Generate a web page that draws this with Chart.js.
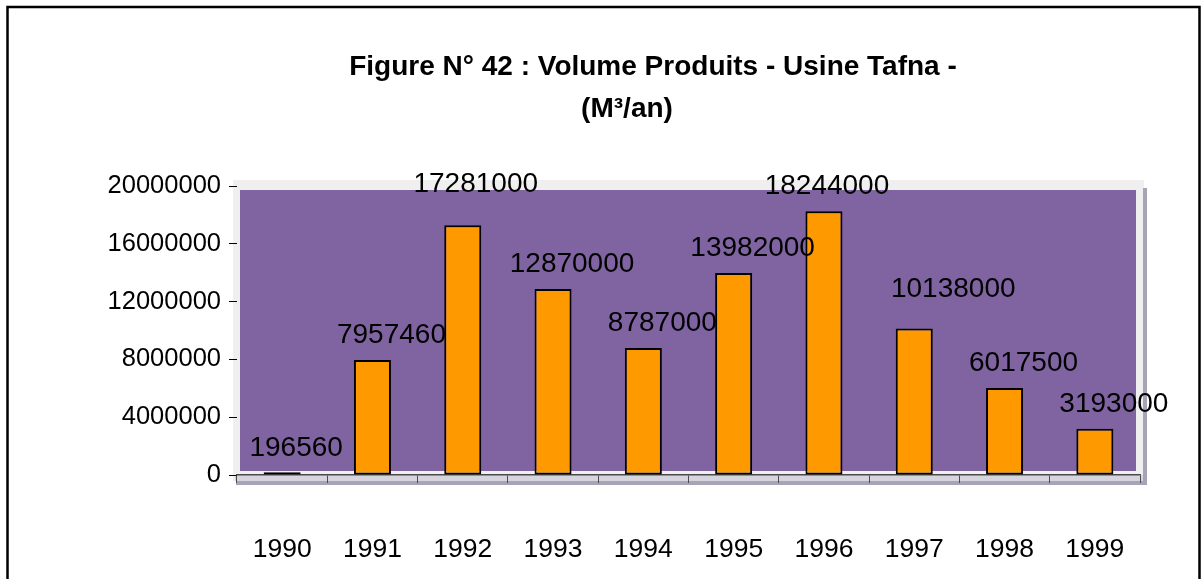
<!DOCTYPE html>
<html lang="fr">
  <head>
    <meta charset="UTF-8" />
    <title>Volume Produits - Usine Tafna</title>
    <script src="https://cdn.jsdelivr.net/npm/chart.js"></script>
    <style>
      body {
        margin: 0;
        background: #fff;
      }
      #volumeChart {
        display: block;
      }
    </style>
  </head>

  <body>
    <canvas id="volumeChart" width="1201" height="579"></canvas>

    <script>
      // Données : volume produit par année (M3/an)
      const annees = ["1990", "1991", "1992", "1993", "1994", "1995", "1996", "1997", "1998", "1999"];
      const volumes = [196560, 7957460, 17281000, 12870000, 8787000, 13982000, 18244000, 10138000, 6017500, 3193000];
      const titre = ["Figure N° 42 : Volume Produits - Usine Tafna -", "(M³/an)"];
      const axeYMax = 20000000;
      const axeYPas = 2000000;
      const axeYLabelPas = 4000000;

      const policeTexte = '"Liberation Sans", Arial, sans-serif';

      // Cadre noir autour du graphique + mur violet "3D" derrière les barres
      const fondPlugin = {
        id: "fond",
        beforeDraw(chart) {
          const ctx = chart.ctx;
          const ca = chart.chartArea;
          ctx.save();
          ctx.fillStyle = "#fff";
          ctx.fillRect(0, 0, chart.width, chart.height);

          // bordure extérieure (pas de trait en bas)
          ctx.strokeStyle = "#000";
          ctx.lineWidth = 2.5;
          ctx.beginPath();
          ctx.moveTo(7.5, chart.height + 5);
          ctx.lineTo(7.5, 7);
          ctx.lineTo(1199.5, 7);
          ctx.lineTo(1199.5, chart.height + 5);
          ctx.stroke();

          // titre sur deux lignes
          ctx.fillStyle = "#000";
          ctx.textAlign = "center";
          ctx.textBaseline = "alphabetic";
          ctx.font = "bold 28px " + policeTexte;
          ctx.fillText(titre[0], 653, 75);
          ctx.fillText(titre[1], 627, 117);

          // cadre gris clair du mur
          ctx.fillStyle = "#efefef";
          ctx.fillRect(ca.left - 4, ca.top - 6, ca.right - ca.left + 8, ca.bottom - ca.top + 12);
          // ombre à droite et en bas
          ctx.fillStyle = "#a9a3b8";
          ctx.fillRect(ca.right + 3, ca.top + 2, 4, ca.bottom - ca.top + 8);
          ctx.fillRect(ca.left - 1, ca.bottom + 6, ca.right - ca.left + 8, 4);
          // sol
          ctx.fillStyle = "#d6d4dc";
          ctx.fillRect(ca.left - 2, ca.bottom, ca.right - ca.left + 5, 6);
          // mur violet
          ctx.fillStyle = "#8064a2";
          ctx.fillRect(ca.left + 3, ca.top + 4, ca.right - ca.left - 7, ca.bottom - ca.top - 8);
          ctx.restore();
        },
      };

      // Étiquettes de valeur au-dessus des barres
      const etiquettesPlugin = {
        id: "etiquettes",
        afterDatasetsDraw(chart) {
          const ctx = chart.ctx;
          const meta = chart.getDatasetMeta(0);
          // décalages (dx, montée) propres à certaines étiquettes
          const decalages = {
            0: [14, 24],
            2: [13, 41],
            6: [3, 25],
            7: [39, 39],
          };
          ctx.save();
          ctx.font = "28px " + policeTexte;
          ctx.fillStyle = "#000";
          ctx.textAlign = "center";
          ctx.textBaseline = "middle";
          meta.data.forEach((bar, i) => {
            const [dx, montee] = decalages[i] || [19, 25];
            ctx.fillText(String(volumes[i]), bar.x + dx, bar.y - montee);
          });
          ctx.restore();
        },
      };

      const ctx = document.getElementById("volumeChart").getContext("2d");
      new Chart(ctx, {
        type: "bar",
        data: {
          labels: annees,
          datasets: [
            {
              data: volumes,
              backgroundColor: "#ff9900",
              borderColor: "#000",
              borderWidth: 2,
              borderSkipped: false,
              categoryPercentage: 1,
              barPercentage: 0.41,
            },
          ],
        },
        options: {
          responsive: false,
          animation: false,
          devicePixelRatio: 1,
          layout: { padding: { left: 0, right: 61, top: 186, bottom: 0 } },
          plugins: {
            legend: { display: false },
            tooltip: { enabled: false },
          },
          scales: {
            x: {
              grid: {
                drawOnChartArea: false,
                offset: true,
                tickLength: 8,
                color: "#4a4a4a",
              },
              border: { display: true, color: "#4a4a4a", width: 1.5 },
              ticks: {
                color: "#000",
                font: { family: policeTexte, size: 26.5 },
                padding: 51,
              },
              afterFit(scale) {
                scale.height = 104;
              },
            },
            y: {
              min: 0,
              max: axeYMax,
              grid: {
                drawOnChartArea: false,
                tickLength: 8,
                color: "#000",
              },
              border: { display: false },
              ticks: {
                stepSize: axeYPas,
                color: "#000",
                font: { family: policeTexte, size: 25.5 },
                padding: 8,
                callback: (v) => (v % axeYLabelPas === 0 ? String(v) : ""),
              },
              afterFit(scale) {
                scale.width = 237;
              },
            },
          },
        },
        plugins: [fondPlugin, etiquettesPlugin],
      });
    </script>
  </body>
</html>
